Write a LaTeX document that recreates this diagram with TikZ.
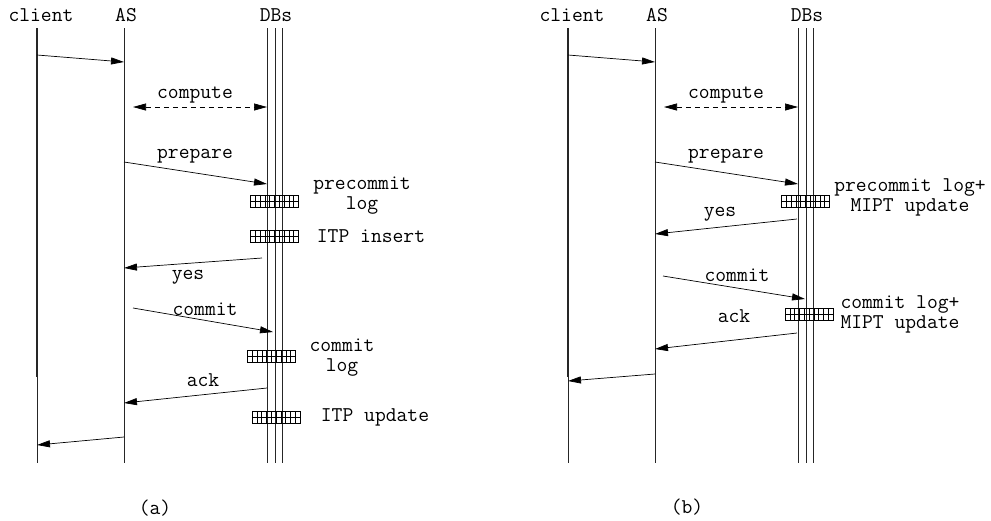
\documentclass[tikz,border=0pt]{standalone}
\usetikzlibrary{arrows.meta}
\begin{document}
\begin{tikzpicture}[x=1pt,y=-1pt,
  lbl/.style={font=\ttfamily\fontsize{21}{20}\selectfont, inner sep=0pt, align=center},
  life/.style={line width=0.7pt, draw=black!85},
  heavylife/.style={line width=1.3pt, draw=black!85},
  msg/.style={line width=0.7pt, -{Triangle[length=13pt,width=7pt]}},
  dmsg/.style={line width=0.7pt, dash pattern=on 5pt off 4pt, {Triangle[length=13pt,width=7pt]}-{Triangle[length=13pt,width=7pt]}},
  dbbox/.style={draw, line width=0.7pt, minimum width=48pt, minimum height=12pt, inner sep=0pt,
    path picture={\foreach \i in {1,...,9}{\draw[line width=0.5pt] ([xshift=\i*4.8pt]path picture bounding box.south west) -- ([xshift=\i*4.8pt]path picture bounding box.north west);}
      \draw[line width=0.5pt] (path picture bounding box.west) -- (path picture bounding box.east);}}
]
\useasboundingbox (0,0) rectangle (991,520);

% ================= (a) =================
\node[lbl] (tca) at (41,15) {client};
\node[lbl] (tasa) at (126,15) {AS};
\node[lbl] (tdba) at (276,15) {DBs};

\coordinate (ca-t) at (37,28); \coordinate (ca-m) at (37,377); \coordinate (ca-b) at (37,463);
\coordinate (asa-t) at (124,28); \coordinate (asa-b) at (124,463);
\coordinate (da1-t) at (267,28); \coordinate (da1-b) at (267,463);
\coordinate (da2-t) at (275,28); \coordinate (da2-b) at (275,463);
\coordinate (da3-t) at (282,28); \coordinate (da3-b) at (282,463);
\draw[life] (ca-t) -- (ca-b);
\draw[heavylife] (ca-t) -- (ca-m);
\draw[life] (asa-t) -- (asa-b);
\draw[life] (da1-t) -- (da1-b);
\draw[life] (da2-t) -- (da2-b);
\draw[life] (da3-t) -- (da3-b);

\node[dbbox] (ba1) at (274.5,201) {};
\node[dbbox] (ba2) at (274.5,236.5) {};
\node[dbbox] (ba3) at (271.5,356) {};
\node[dbbox] (ba4) at (276,417) {};

\coordinate (a1s) at (37,55);  \coordinate (a1e) at (124,62);
\coordinate (acs) at (133,107); \coordinate (ace) at (267,107);
\coordinate (aps) at (124,162); \coordinate (ape) at (267,184);
\coordinate (ays) at (262,258); \coordinate (aye) at (124,268);
\coordinate (aks) at (133,308); \coordinate (ake) at (273,332);
\coordinate (aas) at (267,388); \coordinate (aae) at (124,403);
\coordinate (afs) at (124,437); \coordinate (afe) at (37,445);
\draw[msg] (a1s) -- (a1e);
\draw[dmsg] (acs) -- (ace);
\draw[msg] (aps) -- (ape);
\draw[msg] (ays) -- (aye);
\draw[msg] (aks) -- (ake);
\draw[msg] (aas) -- (aae);
\draw[msg] (afs) -- (afe);

\node[lbl] (lca) at (195,95) {compute};
\node[lbl] (lpa) at (195,156) {prepare};
\node[lbl] (lpca) at (362,196) {precommit\\log};
\node[lbl] (lia) at (371,236) {ITP insert};
\node[lbl] (lya) at (188,277) {yes};
\node[lbl] (lka) at (205,309) {commit};
\node[lbl] (lkla) at (342,358) {commit\\log};
\node[lbl] (laa) at (203,380) {ack};
\node[lbl] (lua) at (375,417) {ITP update};
\node[lbl] (capa) at (155,508) {(a)};

% ================= (b) =================
\node[lbl] (tcb) at (572,15) {client};
\node[lbl] (tasb) at (657,15) {AS};
\node[lbl] (tdbb) at (807,15) {DBs};

\coordinate (cb-t) at (568,28); \coordinate (cb-m) at (568,377); \coordinate (cb-b) at (568,463);
\coordinate (asb-t) at (655,28); \coordinate (asb-b) at (655,463);
\coordinate (db1-t) at (798,28); \coordinate (db1-b) at (798,463);
\coordinate (db2-t) at (806,28); \coordinate (db2-b) at (806,463);
\coordinate (db3-t) at (813,28); \coordinate (db3-b) at (813,463);
\draw[life] (cb-t) -- (cb-b);
\draw[heavylife] (cb-t) -- (cb-m);
\draw[life] (asb-t) -- (asb-b);
\draw[life] (db1-t) -- (db1-b);
\draw[life] (db2-t) -- (db2-b);
\draw[life] (db3-t) -- (db3-b);

\node[dbbox] (bb1) at (805.5,201) {};
\node[dbbox] (bb2) at (809,314) {};

\coordinate (b1s) at (568,55);  \coordinate (b1e) at (655,62);
\coordinate (bcs) at (664,107); \coordinate (bce) at (798,107);
\coordinate (bps) at (655,162); \coordinate (bpe) at (798,184);
\coordinate (bys) at (797,219); \coordinate (bye) at (655,234);
\coordinate (bks) at (663,276); \coordinate (bke) at (805,299);
\coordinate (bas) at (797,333); \coordinate (bae) at (655,349);
\coordinate (bfs) at (655,374); \coordinate (bfe) at (568,381);
\draw[msg] (b1s) -- (b1e);
\draw[dmsg] (bcs) -- (bce);
\draw[msg] (bps) -- (bpe);
\draw[msg] (bys) -- (bye);
\draw[msg] (bks) -- (bke);
\draw[msg] (bas) -- (bae);
\draw[msg] (bfs) -- (bfe);

\node[lbl] (lcb) at (726,95) {compute};
\node[lbl] (lpb) at (726,156) {prepare};
\node[lbl] (lpcb) at (910,197) {precommit log+\\MIPT update};
\node[lbl] (lyb) at (720,214) {yes};
\node[lbl] (lkb) at (737,275) {commit};
\node[lbl] (lkcb) at (900,314) {commit log+\\MIPT update};
\node[lbl] (lab) at (734,316) {ack};
\node[lbl] (capb) at (687,507) {(b)};
\end{tikzpicture}
\end{document}
